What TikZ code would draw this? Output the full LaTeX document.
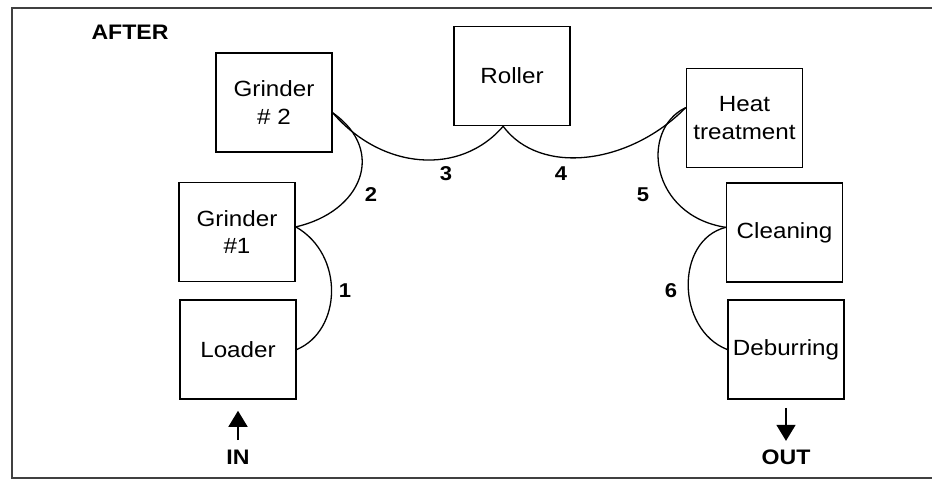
\documentclass[tikz,border=0pt]{standalone}
\usepackage{fontspec}
\setmainfont{Liberation Sans}[FakeStretch=1.1]
\usetikzlibrary{arrows.meta,positioning}

\begin{document}
\begin{tikzpicture}[
            x=1pt, y=-1pt,
            box/.style={draw, line width=1.6pt, rectangle, minimum width=116pt, minimum height=99pt, inner sep=0pt, align=center, font=\fontsize{22}{27.5}\selectfont},
            link/.style={line width=1.3pt},
            num/.style={inner sep=0pt, font=\bfseries\fontsize{20}{22}\selectfont},
            tag/.style={inner sep=0pt, font=\bfseries\fontsize{21}{23}\selectfont},
            flow/.style={line width=1.6pt, -{Triangle[length=16pt,width=19pt]}}
        ]
            \useasboundingbox (0,0) rectangle (932,481);
            % open frame, runs off on the right
            \draw[line width=1.3pt, black!75] (945,8) -- (12,8) -- (12,478) -- (945,478);
            \node[tag] (after) at (130,32.5) {AFTER};

            \node[box] (g2) at (274,102.5) {Grinder\\\# 2};
            \node[box] (g1) at (237,232) {Grinder\\\#1};
            \node[box] (ld) at (238,349.5) {Loader};
            \node[box] (ro) at (512,76) {Roller};
            \node[box] (ht) at (744.5,118) {Heat\\treatment};
            \node[box] (cln) at (784.5,232.5) {Cleaning};
            \node[box] (db) at (786,349.5) {Deburring};

            \draw[link] (ld.east) .. controls +(45,-19) and +(49,28) .. (g1.5);
            \draw[link] (g1.5) .. controls +(66,-15) and +(54,38) .. (g2.-10);
            \draw[link] (g2.-10) .. controls +(49,57) and +(-43,50) .. (ro.-100);
            \draw[link] (ro.-100) .. controls +(37,50) and +(-56,57) .. (ht.170);
            \draw[link] (ht.170) .. controls +(-46,22) and +(-76,-12) .. (cln.175);
            \draw[link] (cln.175) .. controls +(-51,13) and +(-51,-20) .. (db.west);

            \node[num] (n1) at (345,291) {1};
            \node[num] (n2) at (371,195) {2};
            \node[num] (n3) at (446,174) {3};
            \node[num] (n4) at (561,174) {4};
            \node[num] (n5) at (643,195) {5};
            \node[num] (n6) at (671,291) {6};

            \node[tag] (in) at (238,457.5) {IN};
            \node[tag] (out) at (786,457.5) {OUT};
            \draw[flow, shorten <=10pt, shorten >=11pt] (in.north) -- (ld.south);
            \draw[flow, shorten <=8pt, shorten >=9pt] (db.south) -- (out.north);
        \end{tikzpicture}
\end{document}
